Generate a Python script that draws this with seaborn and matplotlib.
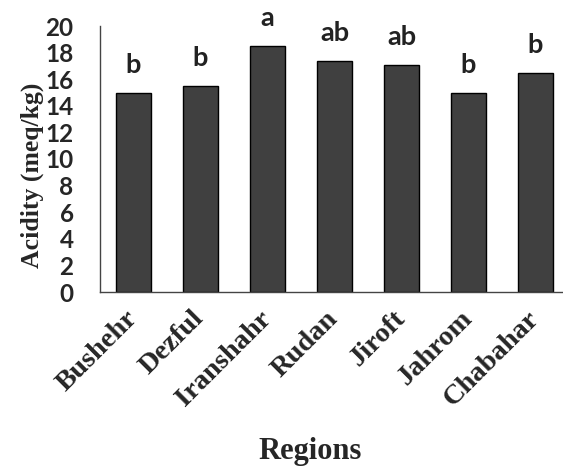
import matplotlib
matplotlib.use("Agg")
import matplotlib.pyplot as plt
import matplotlib.transforms as mtransforms
import seaborn as sns
import pandas as pd

regions = ["Bushehr", "Dezful", "Iranshahr", "Rudan", "Jiroft", "Jahrom", "Chabahar"]
acidity = [15.0, 15.5, 18.5, 17.4, 17.05, 15.0, 16.5]
letters = ["b", "b", "a", "ab", "ab", "b", "b"]
yticks = [0, 2, 4, 6, 8, 10, 12, 14, 16, 18, 20]

sns.set_style("white")
df = pd.DataFrame({"Region": regions, "Acidity": acidity})

fig = plt.figure(figsize=(5.63, 4.68), dpi=100)
ax = fig.add_axes([100/563, (468-292)/468, (569-100)/563, (292-26)/468])
sns.barplot(data=df, x="Region", y="Acidity", color="#404040", saturation=1,
            width=0.52, edgecolor="black", linewidth=1.0, ax=ax)
ax.set_xlim(-0.5, 6.5)
ax.set_ylim(0, 20)
ax.tick_params(axis="y", direction="out", length=5, width=1, color="#444444", pad=14)
ax.tick_params(axis="x", length=0, pad=8)
ax.set_yticks(yticks)
ax.set_yticklabels([str(t) for t in yticks], fontfamily="Lato", fontweight="bold", fontsize=17.5)
ax.set_xticks(range(len(regions)))
ax.set_xticklabels(regions, rotation=45, ha="right", rotation_mode="anchor",
                   fontfamily="Liberation Serif", fontweight="bold", fontsize=20.5)
offset = mtransforms.ScaledTranslation(-9/100, -3/100, fig.dpi_scale_trans)
for lab in ax.get_xticklabels():
    lab.set_transform(lab.get_transform() + offset)
for s in ["top", "right"]:
    ax.spines[s].set_visible(False)
for s in ["left", "bottom"]:
    ax.spines[s].set_color("#444444")
    ax.spines[s].set_linewidth(1.0)
ax.set_xlabel("")
ax.set_ylabel("Acidity (meq/kg)", fontfamily="Liberation Serif", fontweight="bold", fontsize=18.5)
ax.yaxis.set_label_coords(-0.119, 0.44)
for i, (v, l) in enumerate(zip(acidity, letters)):
    ax.text(i, v + 2.1, l, ha="center", va="center", fontfamily="Lato",
            fontweight="bold", fontsize=19.5, color="#222222")
fig.text(310/563, 1 - 452/468, "Regions", ha="center", va="center",
         fontfamily="Liberation Serif", fontweight="bold", fontsize=22)
fig.savefig("out.png", dpi=100)
